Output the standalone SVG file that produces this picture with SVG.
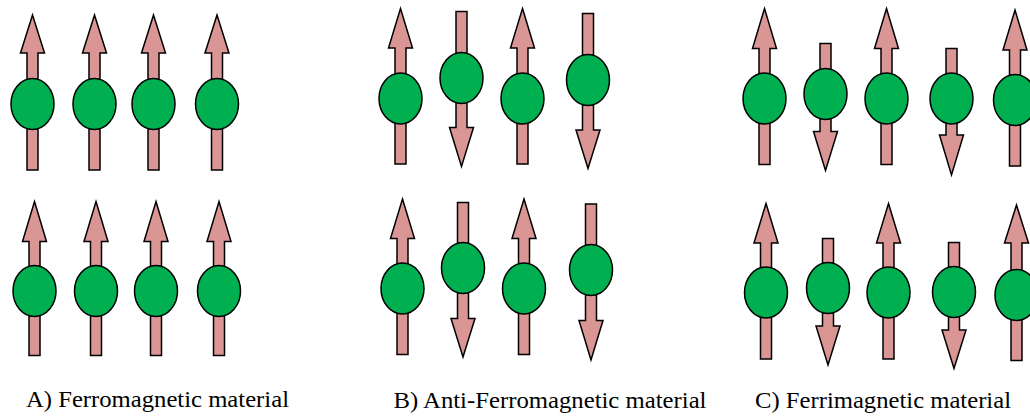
<svg xmlns="http://www.w3.org/2000/svg" width="1030" height="417" viewBox="0 0 1030 417">
<style>
.arrow{fill:#D99694;stroke:#000;stroke-width:1.5;stroke-linejoin:miter}
.atom{fill:#00B050;stroke:#000;stroke-width:1.5}
.label{font-family:"Liberation Serif","Times New Roman",serif;font-size:22.5px;fill:#000}
</style>
<rect width="1030" height="417" fill="#fff"/>
<g id="ferro">
<g id="A1-1"><path class="arrow" d="M32.5,15 L44.5,53 L38,53 L38,170 L27,170 L27,53 L20.5,53 Z"/><ellipse class="atom" cx="32.5" cy="104" rx="21.5" ry="25.5"/></g>
<g id="A1-2"><path class="arrow" d="M94.5,15 L106.5,53 L100,53 L100,170 L89,170 L89,53 L82.5,53 Z"/><ellipse class="atom" cx="94.5" cy="104" rx="21.5" ry="25.5"/></g>
<g id="A1-3"><path class="arrow" d="M153.5,15 L165.5,53 L159,53 L159,170 L148,170 L148,53 L141.5,53 Z"/><ellipse class="atom" cx="153.5" cy="104" rx="21.5" ry="25.5"/></g>
<g id="A1-4"><path class="arrow" d="M217,15 L229,53 L222.5,53 L222.5,170 L211.5,170 L211.5,53 L205,53 Z"/><ellipse class="atom" cx="217" cy="104" rx="21.5" ry="25.5"/></g>
<g id="A2-1"><path class="arrow" d="M34.5,201.5 L46.5,241.5 L40,241.5 L40,355.5 L29,355.5 L29,241.5 L22.5,241.5 Z"/><ellipse class="atom" cx="34.5" cy="291" rx="21.5" ry="25.5"/></g>
<g id="A2-2"><path class="arrow" d="M96,201.5 L108,241.5 L101.5,241.5 L101.5,355.5 L90.5,355.5 L90.5,241.5 L84,241.5 Z"/><ellipse class="atom" cx="96" cy="291" rx="21.5" ry="25.5"/></g>
<g id="A2-3"><path class="arrow" d="M156,201.5 L168,241.5 L161.5,241.5 L161.5,355.5 L150.5,355.5 L150.5,241.5 L144,241.5 Z"/><ellipse class="atom" cx="156" cy="291" rx="21.5" ry="25.5"/></g>
<g id="A2-4"><path class="arrow" d="M219,201.5 L231,241.5 L224.5,241.5 L224.5,355.5 L213.5,355.5 L213.5,241.5 L207,241.5 Z"/><ellipse class="atom" cx="219" cy="291" rx="21.5" ry="25.5"/></g>
</g>
<g id="antiferro">
<g id="B1-1"><path class="arrow" d="M400.5,8.5 L412.5,48 L406,48 L406,164 L395,164 L395,48 L388.5,48 Z"/><ellipse class="atom" cx="400.5" cy="98.5" rx="21.5" ry="25.5"/></g>
<g id="B1-2"><path class="arrow" d="M456,11.5 L467,11.5 L467,127.5 L473.5,127.5 L461.5,166.5 L449.5,127.5 L456,127.5 Z"/><ellipse class="atom" cx="461.5" cy="78" rx="21.5" ry="25.5"/></g>
<g id="B1-3"><path class="arrow" d="M522.5,8.5 L534.5,48 L528,48 L528,164 L517,164 L517,48 L510.5,48 Z"/><ellipse class="atom" cx="522.5" cy="98.5" rx="21.5" ry="25.5"/></g>
<g id="B1-4"><path class="arrow" d="M582.5,13.5 L593.5,13.5 L593.5,130 L600,130 L588,168.5 L576,130 L582.5,130 Z"/><ellipse class="atom" cx="588" cy="80" rx="21.5" ry="25.5"/></g>
<g id="B2-1"><path class="arrow" d="M402.5,199 L414.5,238.5 L408,238.5 L408,354.5 L397,354.5 L397,238.5 L390.5,238.5 Z"/><ellipse class="atom" cx="402.5" cy="288.5" rx="21.5" ry="25.5"/></g>
<g id="B2-2"><path class="arrow" d="M457.5,202.5 L468.5,202.5 L468.5,318.5 L475,318.5 L463,357 L451,318.5 L457.5,318.5 Z"/><ellipse class="atom" cx="463" cy="268" rx="21.5" ry="25.5"/></g>
<g id="B2-3"><path class="arrow" d="M524,199 L536,238.5 L529.5,238.5 L529.5,354.5 L518.5,354.5 L518.5,238.5 L512,238.5 Z"/><ellipse class="atom" cx="524" cy="288.5" rx="21.5" ry="25.5"/></g>
<g id="B2-4"><path class="arrow" d="M585.5,204 L596.5,204 L596.5,320.5 L603,320.5 L591,360 L579,320.5 L585.5,320.5 Z"/><ellipse class="atom" cx="591" cy="270" rx="21.5" ry="25.5"/></g>
</g>
<g id="ferri">
<g id="C1-1"><path class="arrow" d="M764.5,8.5 L776.5,48.5 L770,48.5 L770,164.5 L759,164.5 L759,48.5 L752.5,48.5 Z"/><ellipse class="atom" cx="764.5" cy="98.5" rx="21.5" ry="25.5"/></g>
<g id="C1-2"><path class="arrow" d="M820,43.5 L831,43.5 L831,131.5 L837.5,131.5 L825.5,170.5 L813.5,131.5 L820,131.5 Z"/><ellipse class="atom" cx="825.5" cy="94" rx="21.5" ry="25.5"/></g>
<g id="C1-3"><path class="arrow" d="M886.5,8.5 L898.5,48.5 L892,48.5 L892,164.5 L881,164.5 L881,48.5 L874.5,48.5 Z"/><ellipse class="atom" cx="886.5" cy="98.5" rx="21.5" ry="25.5"/></g>
<g id="C1-4"><path class="arrow" d="M946,48.5 L957,48.5 L957,135 L963.5,135 L951.5,175 L939.5,135 L946,135 Z"/><ellipse class="atom" cx="951.5" cy="98.5" rx="21.5" ry="25.5"/></g>
<g id="C1-5"><path class="arrow" d="M1015,10 L1027,50 L1020.5,50 L1020.5,166 L1009.5,166 L1009.5,50 L1003,50 Z"/><ellipse class="atom" cx="1015" cy="100" rx="21.5" ry="25.5"/></g>
<g id="C2-1"><path class="arrow" d="M766,203.5 L778,243 L771.5,243 L771.5,359 L760.5,359 L760.5,243 L754,243 Z"/><ellipse class="atom" cx="766" cy="292.5" rx="21.5" ry="25.5"/></g>
<g id="C2-2"><path class="arrow" d="M822.5,238.5 L833.5,238.5 L833.5,326 L840,326 L828,365 L816,326 L822.5,326 Z"/><ellipse class="atom" cx="828" cy="288" rx="21.5" ry="25.5"/></g>
<g id="C2-3"><path class="arrow" d="M888.5,203.5 L900.5,243 L894,243 L894,359 L883,359 L883,243 L876.5,243 Z"/><ellipse class="atom" cx="888.5" cy="292.5" rx="21.5" ry="25.5"/></g>
<g id="C2-4"><path class="arrow" d="M948.5,242.5 L959.5,242.5 L959.5,330 L966,330 L954,368.5 L942,330 L948.5,330 Z"/><ellipse class="atom" cx="954" cy="292" rx="21.5" ry="25.5"/></g>
<g id="C2-5"><path class="arrow" d="M1016.5,205 L1028.5,243 L1022,243 L1022,360.5 L1011,360.5 L1011,243 L1004.5,243 Z"/><ellipse class="atom" cx="1016.5" cy="295" rx="21.5" ry="25.5"/></g>
</g>
<g id="connectors"></g>
<g id="labels">
<text class="label" x="26" y="406.5" textLength="263" lengthAdjust="spacingAndGlyphs">A) Ferromagnetic material</text>
<text class="label" x="393.5" y="407.5" textLength="313" lengthAdjust="spacingAndGlyphs">B) Anti-Ferromagnetic material</text>
<text class="label" x="755" y="408" textLength="256" lengthAdjust="spacingAndGlyphs">C) Ferrimagnetic material</text>
</g>
</svg>
